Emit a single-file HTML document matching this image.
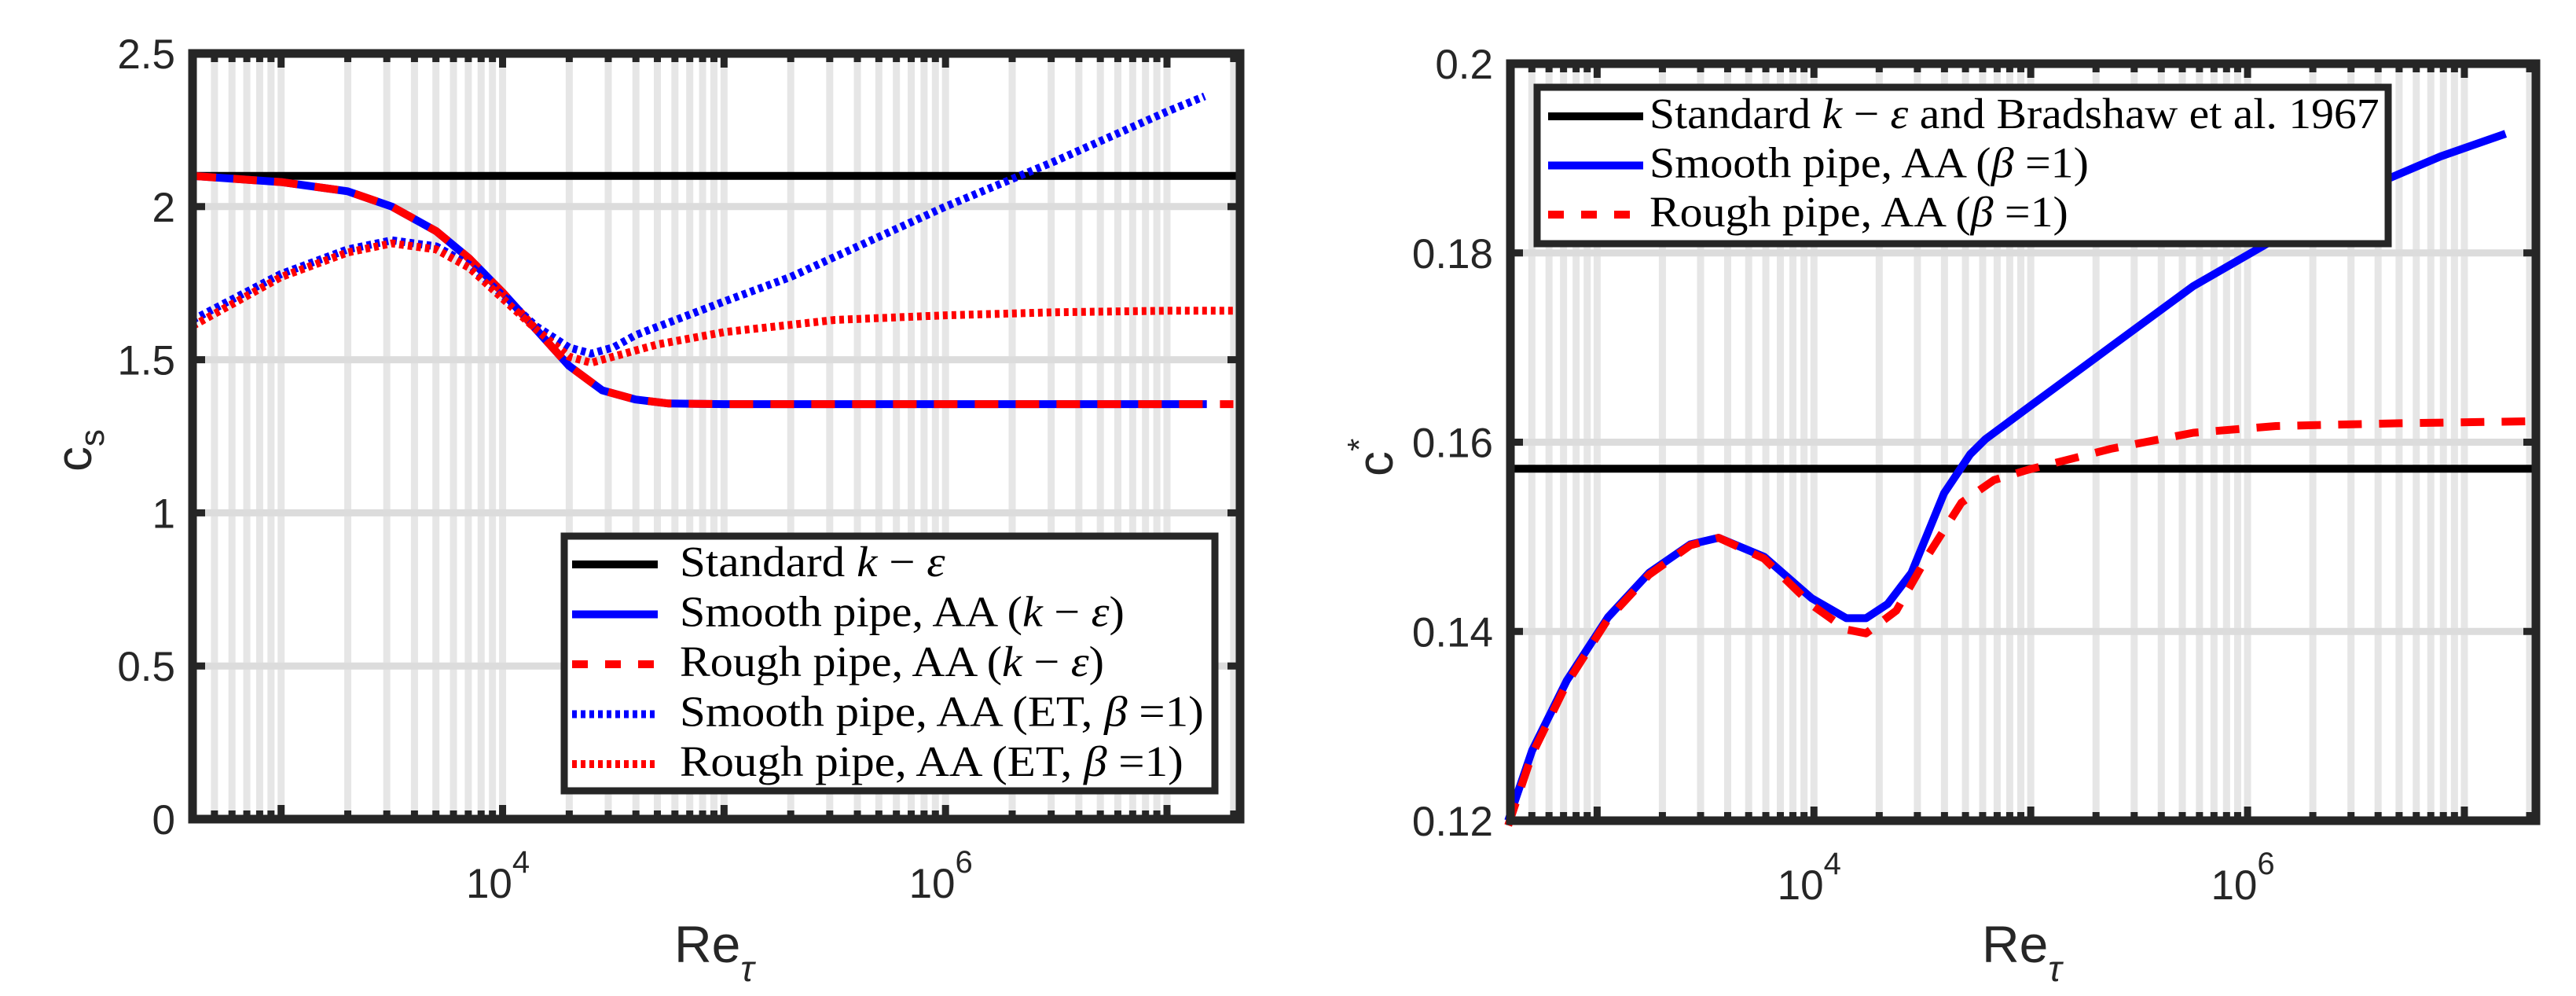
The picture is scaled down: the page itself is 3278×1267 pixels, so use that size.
<!DOCTYPE html>
<html><head><meta charset="utf-8"><style>
html,body{margin:0;padding:0;background:#fff;}
svg{display:block;}
.tk{font-family:"Liberation Sans",sans-serif;font-size:53px;fill:#262626;}
.lg{font-family:"Liberation Serif",serif;font-size:55px;fill:#000;}
</style></head><body>
<svg id="fig" width="3278" height="1267" viewBox="0 0 3278 1267" xmlns="http://www.w3.org/2000/svg">
<g id="left"></g>
<g id="right"></g>
</svg>
<script>
// ---- data (log10 Re_tau, value) ----
const xLimLog = [2.6, 7.33];
const leftYTicks = [0, 0.5, 1, 1.5, 2, 2.5];
const rightYTicks = [0.12, 0.14, 0.16, 0.18, 0.2];
const rightYLabels = ["0.12", "0.14", "0.16", "0.18", "0.2"];
const xMajorLog = [4, 6];
const standardKE = 2.1;
const keLogX = [2.6, 3, 3.3, 3.5, 3.7, 3.85, 4, 4.15, 4.3, 4.45, 4.6, 4.75, 5, 7.3];
const keSmooth = [2.1, 2.08, 2.05, 2.0, 1.92, 1.83, 1.72, 1.6, 1.48, 1.4, 1.37, 1.357, 1.355, 1.355];
const etLogX = [2.6, 3, 3.3, 3.5, 3.7, 3.85, 4, 4.15, 4.3, 4.4, 4.5, 4.6, 5, 5.3, 6, 6.5, 7, 7.17];
const etSmooth = [1.63, 1.78, 1.86, 1.89, 1.87, 1.81, 1.71, 1.61, 1.54, 1.52, 1.54, 1.58, 1.69, 1.77, 2.0, 2.15, 2.31, 2.36];
const etRoughLogX = [2.6, 3, 3.3, 3.5, 3.7, 3.85, 4, 4.15, 4.3, 4.4, 4.5, 4.7, 5, 5.5, 6, 6.5, 7, 7.33];
const etRough = [1.61, 1.77, 1.85, 1.88, 1.86, 1.80, 1.70, 1.6, 1.51, 1.49, 1.51, 1.55, 1.59, 1.63, 1.645, 1.655, 1.66, 1.66];
const cStandard = 0.1572;
const cSmoothLogX = [2.59, 2.70, 2.86, 3.05, 3.24, 3.43, 3.56, 3.77, 3.99, 4.15, 4.24, 4.34, 4.45, 4.60, 4.72, 4.79, 4.99, 5.37, 5.75, 6.13, 6.51, 6.89, 7.19];
const cSmooth = [0.12, 0.1274, 0.1348, 0.1415, 0.1462, 0.1492, 0.1499, 0.1479, 0.1435, 0.1414, 0.1414, 0.1429, 0.1462, 0.1546, 0.1587, 0.1603, 0.1637, 0.1701, 0.1765, 0.1815, 0.1865, 0.1902, 0.1926];
const cRoughLogX = [2.59, 2.70, 2.86, 3.05, 3.24, 3.43, 3.56, 3.77, 3.99, 4.15, 4.24, 4.38, 4.53, 4.68, 4.83, 4.99, 5.37, 5.75, 6.13, 6.7, 7.29];
const cRough = [0.1195, 0.127, 0.1345, 0.1413, 0.146, 0.1491, 0.1499, 0.1477, 0.1428, 0.1402, 0.1398, 0.1422, 0.1482, 0.1536, 0.156, 0.1571, 0.1593, 0.161, 0.1617, 0.162, 0.1622];

const NS="http://www.w3.org/2000/svg";
function mk(parent, tag, attrs){const e=document.createElementNS(NS,tag);for(const k in attrs)e.setAttribute(k,attrs[k]);parent.appendChild(e);return e;}

function makeAxes(g, box, yMin, yMax){
  const xs = lv => box.x0 + (lv - xLimLog[0])/(xLimLog[1]-xLimLog[0])*(box.x1-box.x0);
  const ys = v => box.y1 - (v - yMin)/(yMax-yMin)*(box.y1-box.y0);
  return {xs, ys};
}

function drawFrame(g, box, ax, yTicks, yLabels){
  for(let d=2; d<=7; d++){
    for(let m=1; m<=9; m++){
      const lv = d + Math.log10(m);
      if(lv < xLimLog[0]+0.003 || lv > xLimLog[1]) continue;
      const x = ax.xs(lv);
      const l = mk(g,'line',{x1:x,x2:x,y1:box.y0,y2:box.y1,stroke:'#e6e6e6','stroke-width':9});
      
      
      const len = m===1?18:11;
      mk(g,'line',{x1:x,x2:x,y1:box.y1,y2:box.y1-len,stroke:'#262626','stroke-width':9});
      mk(g,'line',{x1:x,x2:x,y1:box.y0,y2:box.y0+len,stroke:'#262626','stroke-width':9});
    }
  }
  yTicks.forEach((v,i)=>{
    const y = ax.ys(v);
    const l = mk(g,'line',{x1:box.x0,x2:box.x1,y1:y,y2:y,stroke:'#dcdcdc','stroke-width':9});
    
    
    mk(g,'line',{x1:box.x0,x2:box.x0+16,y1:y,y2:y,stroke:'#262626','stroke-width':9});
    mk(g,'line',{x1:box.x1,x2:box.x1-16,y1:y,y2:y,stroke:'#262626','stroke-width':9});
    const t = mk(g,'text',{x:box.x0-22,y:y+19,'text-anchor':'end',class:'tk'});
    t.textContent = yLabels[i];
    
    
  });
  xMajorLog.forEach(lv=>{
    const x = ax.xs(lv);
    const t = mk(g,'text',{x:x-6,y:box.y1+100,'text-anchor':'middle',class:'tk'});
    t.innerHTML = '10<tspan dy="-32" font-size="40">'+lv+'</tspan>';
    
    
  });
}

function drawLine(g, ax, lx, vals, color, dash, name){
  const d = lx.map((l,i)=>(i?'L':'M')+ax.xs(l).toFixed(1)+','+ax.ys(vals[i]).toFixed(1)).join(' ');
  const p = mk(g,'path',{d:d,fill:'none',stroke:color,'stroke-width':10,'stroke-linejoin':'round'});
  if(dash) p.setAttribute('stroke-dasharray',dash);
  
  
}

function drawBorder(g, box){
  const r = mk(g,'rect',{x:box.x0,y:box.y0,width:box.x1-box.x0,height:box.y1-box.y0,fill:'none',stroke:'#262626','stroke-width':11});
  
  
}

function legend(g, lb, rows, sampleX0, sampleX1, textX){
  const r = mk(g,'rect',{x:lb.x,y:lb.y,width:lb.w,height:lb.h,fill:'#fff',stroke:'#262626','stroke-width':9});
  
  
  rows.forEach((row,i)=>{
    const y = lb.y0 + i*lb.dy;
    const l = mk(g,'line',{x1:sampleX0,x2:sampleX1,y1:y,y2:y,stroke:row.c,'stroke-width':10});
    if(row.dash) l.setAttribute('stroke-dasharray',row.dash);
    
    
    const ty = y+15;
    const t = mk(g,'text',{x:textX,y:ty,class:'lg'});
    t.innerHTML = row.t;
    
    
    let w = 0;
    try { w = t.getBBox().width; } catch(e) {}
    if(w > 0){
      const s = row.w / w;
      t.setAttribute('transform','translate('+textX+','+ty+') scale('+s.toFixed(4)+',1) translate('+(-textX)+','+(-ty)+')');
    }
  });
}

// ---- left chart ----
const gL = document.getElementById('left');
const boxL = {x0:245,x1:1578,y0:68,y1:1042};
const axL = makeAxes(gL, boxL, 0, 2.5);
drawFrame(gL, boxL, axL, leftYTicks, leftYTicks.map(String));
drawLine(gL, axL, [xLimLog[0], xLimLog[1]], [standardKE, standardKE], '#000', null, 'standard-ke-line');
drawLine(gL, axL, keLogX.slice(0,-1).concat([7.18]), keSmooth, '#0000ff', null, 'smooth-ke-line');
drawLine(gL, axL, keLogX, keSmooth, '#ff0000', '30 22', 'rough-ke-line');
drawLine(gL, axL, etLogX, etSmooth, '#0000ff', '6 5', 'smooth-et-line');
drawLine(gL, axL, etRoughLogX, etRough, '#ff0000', '6 5', 'rough-et-line');
drawBorder(gL, boxL);
const I='<tspan font-style="italic">', E='</tspan>';
legend(gL, {x:718,y:682,w:828,h:324,y0:718,dy:63.5}, [
  {c:'#000',w:338,t:'Standard '+I+'k'+E+' − '+I+'ε'+E},
  {c:'#0000ff',w:566,t:'Smooth pipe, AA ('+I+'k'+E+' − '+I+'ε'+E+')'},
  {c:'#ff0000',dash:'20 22',w:540,t:'Rough pipe, AA ('+I+'k'+E+' − '+I+'ε'+E+')'},
  {c:'#0000ff',dash:'6 5',w:667,t:'Smooth pipe, AA (ET, '+I+'β'+E+' =1)'},
  {c:'#ff0000',dash:'6 5',w:641,t:'Rough pipe, AA (ET, '+I+'β'+E+' =1)'}
], 728, 837, 865);
let t = mk(gL,'text',{x:0,y:0,class:'tk',transform:'translate(116,600) rotate(-90)'});
t.innerHTML='c<tspan dy="16" font-size="44">s</tspan>';
t.style.fontSize='64px';


t = mk(gL,'text',{x:858,y:1224,class:'tk'});
t.innerHTML='Re<tspan dy="24" font-size="46" font-style="italic">τ</tspan>';
t.style.fontSize='66px';



// ---- right chart ----
const gR = document.getElementById('right');
const boxR = {x0:1922,x1:3227,y0:81,y1:1044};
const axR = makeAxes(gR, boxR, 0.12, 0.2);
drawFrame(gR, boxR, axR, rightYTicks, rightYLabels);
drawLine(gR, axR, [xLimLog[0], xLimLog[1]], [cStandard, cStandard], '#000', null, 'standard-cstar-line');
drawLine(gR, axR, cSmoothLogX, cSmooth, '#0000ff', null, 'smooth-cstar-line');
drawLine(gR, axR, cRoughLogX, cRough, '#ff0000', '30 22', 'rough-cstar-line');
drawBorder(gR, boxR);
legend(gR, {x:1956,y:111,w:1083,h:199,y0:148,dy:62.5}, [
  {c:'#000',w:929,t:'Standard '+I+'k'+E+' − '+I+'ε'+E+' and Bradshaw et al. 1967'},
  {c:'#0000ff',w:559,t:'Smooth pipe, AA ('+I+'β'+E+' =1)'},
  {c:'#ff0000',dash:'20 22',w:533,t:'Rough pipe, AA ('+I+'β'+E+' =1)'}
], 1970, 2091, 2099);
t = mk(gR,'text',{x:0,y:0,class:'tk',transform:'translate(1772,606) rotate(-90)'});
t.innerHTML='c<tspan dy="-28" font-size="42">*</tspan>';
t.style.fontSize='64px';


t = mk(gR,'text',{x:2522,y:1224,class:'tk'});
t.innerHTML='Re<tspan dy="24" font-size="46" font-style="italic">τ</tspan>';
t.style.fontSize='66px';


</script>
</body></html>
